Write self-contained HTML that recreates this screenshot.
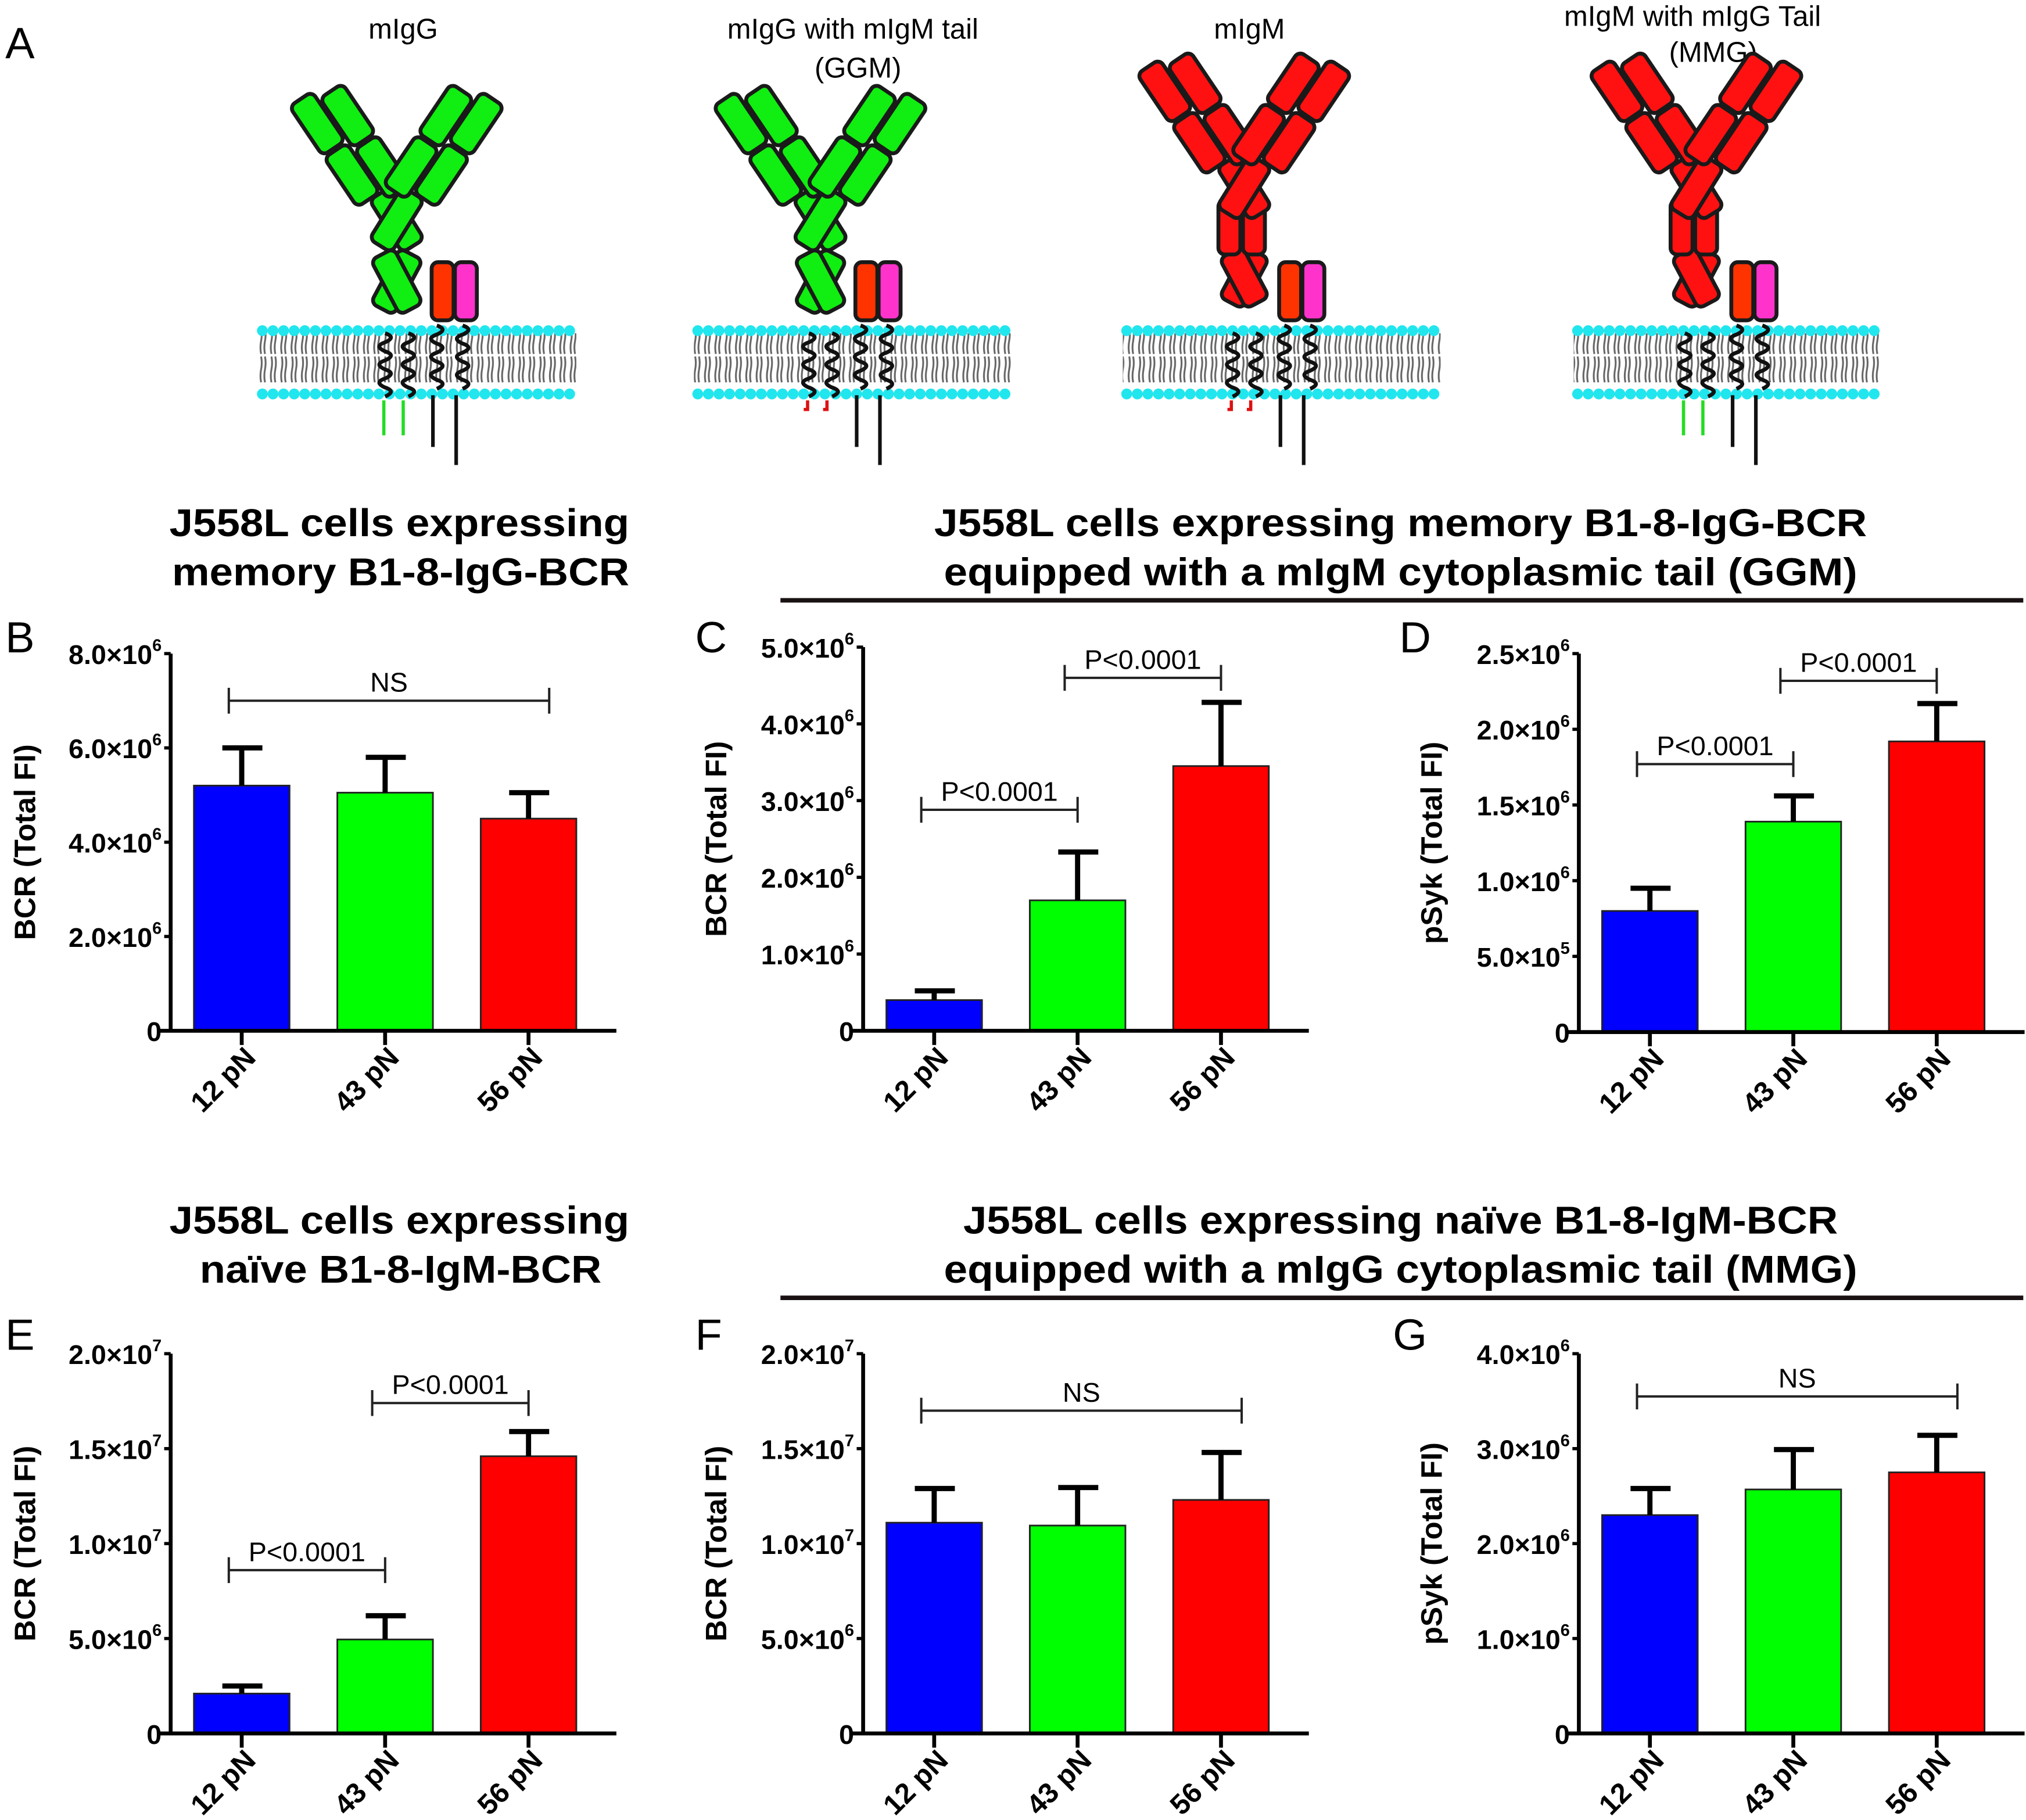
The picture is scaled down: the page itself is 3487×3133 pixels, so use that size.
<!DOCTYPE html>
<html><head><meta charset="utf-8">
<style>
html,body{margin:0;padding:0;background:#fff;}
svg{display:block;}
text{font-family:"Liberation Sans",Arial,sans-serif;}
</style></head>
<body>
<svg id="fig" width="3487" height="3133" viewBox="0 0 1568 1409" xmlns="http://www.w3.org/2000/svg">
<defs>
<pattern id="lipid" x="0" y="0" width="8" height="50" patternUnits="userSpaceOnUse">
<path d="M2 4 q1 5 0 10 q-1 5 0 10 M5 4 q1 5 0 10 q-1 5 0 10 M2 26 q1 5 0 10 q-1 5 0 10 M5 26 q1 5 0 10 q-1 5 0 10" stroke="#666" stroke-width="1.4" fill="none"/>
</pattern>
</defs>
<rect width="1568" height="1409" fill="#fff"/>
<g id="diagrams"></g>
<g id="charts"></g>
</svg>
<script>
// ---- shared categories ----
const categories = ["12 pN", "43 pN", "56 pN"];
const barColors = ["#0000ff", "#00ff00", "#ff0000"];

// ---- panel B ----
const bValues = [5.2e6, 5.05e6, 4.5e6];
const bErrors = [0.8e6, 0.75e6, 0.55e6];
const bTicks = [0, 2e6, 4e6, 6e6, 8e6];
const bTickLabels = ["0", "2.0×10^6", "4.0×10^6", "6.0×10^6", "8.0×10^6"];
// ---- panel C ----
const cValues = [0.4e6, 1.7e6, 3.45e6];
const cErrors = [0.12e6, 0.63e6, 0.83e6];
const cTicks = [0, 1e6, 2e6, 3e6, 4e6, 5e6];
const cTickLabels = ["0", "1.0×10^6", "2.0×10^6", "3.0×10^6", "4.0×10^6", "5.0×10^6"];
// ---- panel D ----
const dValues = [0.8e6, 1.39e6, 1.92e6];
const dErrors = [0.15e6, 0.17e6, 0.25e6];
const dTicks = [0, 5e5, 1e6, 1.5e6, 2e6, 2.5e6];
const dTickLabels = ["0", "5.0×10^5", "1.0×10^6", "1.5×10^6", "2.0×10^6", "2.5×10^6"];
// ---- panel E ----
const eValues = [2.1e6, 4.95e6, 14.6e6];
const eErrors = [0.4e6, 1.25e6, 1.3e6];
const eTicks = [0, 5e6, 1e7, 1.5e7, 2e7];
const eTickLabels = ["0", "5.0×10^6", "1.0×10^7", "1.5×10^7", "2.0×10^7"];
// ---- panel F ----
const fValues = [11.1e6, 10.95e6, 12.3e6];
const fErrors = [1.8e6, 2.0e6, 2.5e6];
const fTicks = [0, 5e6, 1e7, 1.5e7, 2e7];
const fTickLabels = ["0", "5.0×10^6", "1.0×10^7", "1.5×10^7", "2.0×10^7"];
// ---- panel G ----
const gValues = [2.3e6, 2.57e6, 2.75e6];
const gErrors = [0.28e6, 0.42e6, 0.39e6];
const gTicks = [0, 1e6, 2e6, 3e6, 4e6];
const gTickLabels = ["0", "1.0×10^6", "2.0×10^6", "3.0×10^6", "4.0×10^6"];

const NS = "http://www.w3.org/2000/svg";
function mk(tag, attrs, parent) {
  const e = document.createElementNS(NS, tag);
  for (const k in attrs) e.setAttribute(k, attrs[k]);
  if (parent) parent.appendChild(e);
  return e;
}
const charts = document.getElementById("charts");

function tickLabel(g, x, y, s) {
  const t = mk("text", {x: x, y: y, "text-anchor": "end", "font-size": 21, "font-weight": "bold"}, g);
  
  
  const parts = s.split("^");
  if (parts.length === 1) { t.textContent = s; return; }
  const a = mk("tspan", {}, t); a.textContent = parts[0];
  const b = mk("tspan", {"font-size": 13, dy: -10}, t); b.textContent = parts[1];
}

function drawChart(opt, values, errors, ticks, labels, brackets) {
  const g = mk("g", {}, charts);
  
  
  const max = ticks[ticks.length - 1];
  const y = v => opt.y0 - (v / max) * (opt.y0 - opt.yTop);
  const xc = i => opt.ax + 18 + 37 + i * 111;
  const L = mk("text", {x: opt.lx, y: opt.ly, "font-size": 34}, g);
  L.textContent = opt.letter;
  
  
  values.forEach((v, i) => {
    const r = mk("rect", {x: xc(i) - 37, y: y(v), width: 74, height: opt.y0 - y(v), fill: barColors[i], stroke: "#222", "stroke-width": 1.3}, g);
    
    
    const top = y(v + errors[i]);
    const eb = mk("path", {d: `M${xc(i)} ${y(v)} V${top} M${xc(i) - 15} ${top} H${xc(i) + 16}`, stroke: "#000", "stroke-width": 4, fill: "none"}, g);
    
    
  });
  const ya = mk("path", {d: `M${opt.ax} ${opt.yTop} V${opt.y0}`, stroke: "#000", "stroke-width": 3}, g);
  
  
  const xa = mk("path", {d: `M${opt.ax - 9} ${opt.y0} H${opt.ax + 345}`, stroke: "#000", "stroke-width": 3}, g);
  
  
  ticks.forEach((t, i) => {
    const tk = mk("path", {d: `M${opt.ax - 5} ${y(t)} H${opt.ax}`, stroke: "#000", "stroke-width": 2.5}, g);
    
    
    tickLabel(g, opt.ax - 7, y(t) + 8, labels[i]);
  });
  categories.forEach((c, i) => {
    const tk = mk("path", {d: `M${xc(i)} ${opt.y0} V${opt.y0 + 11}`, stroke: "#000", "stroke-width": 3}, g);
    
    
    const tx = xc(i) + 12, ty = opt.y0 + 22;
    const t = mk("text", {x: tx, y: ty, "text-anchor": "end", "font-size": 22, "font-weight": "bold", transform: `rotate(-45 ${tx} ${ty})`}, g);
    t.textContent = c;
    
    
  });
  const cy = (opt.y0 + opt.yTop) / 2;
  const yt = mk("text", {x: opt.tx, y: cy, "text-anchor": "middle", "font-size": 23, "font-weight": "bold", transform: `rotate(-90 ${opt.tx} ${cy})`}, g);
  yt.textContent = opt.ytitle;
  
  
  brackets.forEach(b => {
    const x1 = xc(b.a) - 10, x2 = xc(b.b) + (b.ext || 0), by = y(b.v);
    const p = mk("path", {d: `M${x1} ${by - 10} V${by + 10} M${x1} ${by} H${x2} M${x2} ${by - 10} V${by + 10}`, stroke: "#222", "stroke-width": 1.8, fill: "none"}, g);
    
    
    const t = mk("text", {x: (x1 + x2) / 2, y: by - 7, "text-anchor": "middle", "font-size": 21}, g);
    t.textContent = b.label;
    
    
  });
}

drawChart({letter: "B", lx: 4, ly: 505, ax: 132, y0: 798, yTop: 506, tx: 27, ytitle: "BCR (Total FI)"}, bValues, bErrors, bTicks, bTickLabels,
  [{a: 0, b: 2, v: 7.0e6, label: "NS", ext: 16}]);
drawChart({letter: "C", lx: 538, ly: 505, ax: 668, y0: 798, yTop: 501, tx: 562, ytitle: "BCR (Total FI)"}, cValues, cErrors, cTicks, cTickLabels,
  [{a: 0, b: 1, v: 2.88e6, label: "P<0.0001"}, {a: 1, b: 2, v: 4.6e6, label: "P<0.0001"}]);
drawChart({letter: "D", lx: 1083, ly: 505, ax: 1222, y0: 799, yTop: 506, tx: 1116, ytitle: "pSyk (Total FI)"}, dValues, dErrors, dTicks, dTickLabels,
  [{a: 0, b: 1, v: 1.77e6, label: "P<0.0001"}, {a: 1, b: 2, v: 2.32e6, label: "P<0.0001"}]);
drawChart({letter: "E", lx: 4, ly: 1045, ax: 132, y0: 1342, yTop: 1048, tx: 27, ytitle: "BCR (Total FI)"}, eValues, eErrors, eTicks, eTickLabels,
  [{a: 0, b: 1, v: 8.6e6, label: "P<0.0001"}, {a: 1, b: 2, v: 17.4e6, label: "P<0.0001"}]);
drawChart({letter: "F", lx: 538, ly: 1045, ax: 668, y0: 1342, yTop: 1048, tx: 562, ytitle: "BCR (Total FI)"}, fValues, fErrors, fTicks, fTickLabels,
  [{a: 0, b: 2, v: 17.0e6, label: "NS", ext: 16}]);
drawChart({letter: "G", lx: 1078, ly: 1045, ax: 1222, y0: 1342, yTop: 1048, tx: 1116, ytitle: "pSyk (Total FI)"}, gValues, gErrors, gTicks, gTickLabels,
  [{a: 0, b: 2, v: 3.55e6, label: "NS", ext: 16}]);

function title(x, y, s, w, name) {
  const t = mk("text", {x: x, y: y, "text-anchor": "middle", "font-size": 30, "font-weight": "bold", textLength: w, lengthAdjust: "spacingAndGlyphs"}, charts);
  t.textContent = s;
  
  
}
title(309, 415, "J558L cells expressing", 356, "title-b-line1");
title(310, 453, "memory B1-8-IgG-BCR", 354, "title-b-line2");
title(1084, 415, "J558L cells expressing memory B1-8-IgG-BCR", 722, "title-cd-line1");
title(1084, 453, "equipped with a mIgM cytoplasmic tail (GGM)", 707, "title-cd-line2");
title(309, 955, "J558L cells expressing", 356, "title-e-line1");
title(310, 993, "naïve B1-8-IgM-BCR", 311, "title-e-line2");
title(1084, 955, "J558L cells expressing naïve B1-8-IgM-BCR", 677, "title-fg-line1");
title(1084, 993, "equipped with a mIgG cytoplasmic tail (MMG)", 707, "title-fg-line2");
const u1 = mk("rect", {x: 604, y: 463, width: 962, height: 3.5, fill: "#1a1212"}, charts);


const u2 = mk("rect", {x: 604, y: 1003, width: 962, height: 3.5, fill: "#1a1212"}, charts);



// ---- schematic diagrams ----
const dg = document.getElementById("diagrams");
const LA = mk("text", {x: 4, y: 45, "font-size": 34}, dg);
LA.textContent = "A";



function lbl(x, y, s, name) {
  const t = mk("text", {x: x, y: y, "text-anchor": "middle", "font-size": 22}, dg);
  t.textContent = s;
  
  
}
lbl(312, 30, "mIgG", "label-migg");
lbl(660, 30, "mIgG with mIgM tail", "label-ggm-1");
lbl(664, 60, "(GGM)", "label-ggm-2");
lbl(967, 30, "mIgM", "label-migm");
lbl(1310, 20, "mIgM with mIgG Tail", "label-mmg-1");
lbl(1326, 48, "(MMG)", "label-mmg-2");

function dom(g, x, y, w, h, fill) {
  mk("rect", {x: x, y: y, width: w, height: h, rx: 5, fill: fill, stroke: "#1a1a1a", "stroke-width": 3}, g);
}
function helix(g, x, y1, y2) {
  let d = `M${x} ${y1}`;
  let yy = y1, s = 1;
  while (yy < y2 - 6) { d += ` q${s * 9} 3 0 7`; yy += 7; s = -s; }
  mk("path", {d: d, stroke: "#111", "stroke-width": 3, fill: "none"}, g);
}
function diagram(opt) {
  const g = mk("g", {}, dg);
  
  
  const c = opt.cx, col = opt.color;
  mk("rect", {x: opt.m1, y: 258, width: opt.m2 - opt.m1, height: 46, fill: "url(#lipid)"}, g);
  for (let x = opt.m1 + 3; x <= opt.m2 - 3; x += 8.2) {
    mk("circle", {cx: x, cy: 256, r: 4.2, fill: "#22e6ee"}, g);
    mk("circle", {cx: x, cy: 305, r: 4.2, fill: "#22e6ee"}, g);
  }
  helix(g, c - 14, 258, 312);
  helix(g, c + 4, 258, 312);
  helix(g, c + 26, 252, 306);
  helix(g, c + 46, 252, 306);
  if (opt.tail === "green") {
    mk("path", {d: `M${c - 15} 310 V337 M${c} 310 V337`, stroke: "#22dd22", "stroke-width": 2.5}, g);
  } else {
    mk("path", {d: `M${c - 15} 310 V317 h-3 M${c} 310 V317 h-3`, stroke: "#dd1111", "stroke-width": 2.5, fill: "none"}, g);
  }
  mk("path", {d: `M${c + 23} 306 V346 M${c + 41} 306 V360`, stroke: "#111", "stroke-width": 2.8}, g);
  dom(g, c + 22, 203, 17, 45, "#ff3300");
  dom(g, c + 40, 203, 17, 45, "#ff33cc");
  const baseY = opt.igm ? 140 : 165;
  if (opt.igm) {
    const x1 = mk("g", {transform: `translate(${c - 5} 215) rotate(28)`}, g); dom(x1, -10, -22, 20, 44, col);
    const x2 = mk("g", {transform: `translate(${c - 5} 215) rotate(-28)`}, g); dom(x2, -10, -22, 20, 44, col);
    dom(g, c - 25, 155, 17, 42, col);
    dom(g, c - 6, 155, 17, 42, col);
  } else {
    const x1 = mk("g", {transform: `translate(${c - 5} 218) rotate(28)`}, g); dom(x1, -10, -24, 20, 48, col);
    const x2 = mk("g", {transform: `translate(${c - 5} 218) rotate(-28)`}, g); dom(x2, -10, -24, 20, 48, col);
  }
  const h1 = mk("g", {transform: `translate(${c - 5} ${baseY + 5}) rotate(-32)`}, g); dom(h1, -10, -24, 20, 48, col);
  const h2 = mk("g", {transform: `translate(${c - 5} ${baseY + 5}) rotate(32)`}, g); dom(h2, -10, -24, 20, 48, col);
  const ay = baseY - 55;
  const la = mk("g", {transform: `translate(${c - 43} ${ay}) rotate(-34)`}, g);
  dom(la, -22, -48, 21, 46, col); dom(la, -22, 0, 21, 46, col);
  dom(la, 1, -40, 21, 46, col); dom(la, 1, 8, 21, 46, col);
  const ra = mk("g", {transform: `translate(${c + 33} ${ay}) rotate(34)`}, g);
  dom(ra, 1, -48, 21, 46, col); dom(ra, 1, 0, 21, 46, col);
  dom(ra, -22, -40, 21, 46, col); dom(ra, -22, 8, 21, 46, col);
}
diagram({name: "schematic-migg", cx: 312, m1: 200, m2: 446, color: "#11ee11", tail: "green", igm: false});
diagram({name: "schematic-ggm", cx: 640, m1: 537, m2: 783, color: "#11ee11", tail: "red", igm: false});
diagram({name: "schematic-migm", cx: 968, m1: 869, m2: 1115, color: "#ff1111", tail: "red", igm: true});
diagram({name: "schematic-mmg", cx: 1318, m1: 1218, m2: 1456, color: "#ff1111", tail: "green", igm: true});
</script>
</body></html>
